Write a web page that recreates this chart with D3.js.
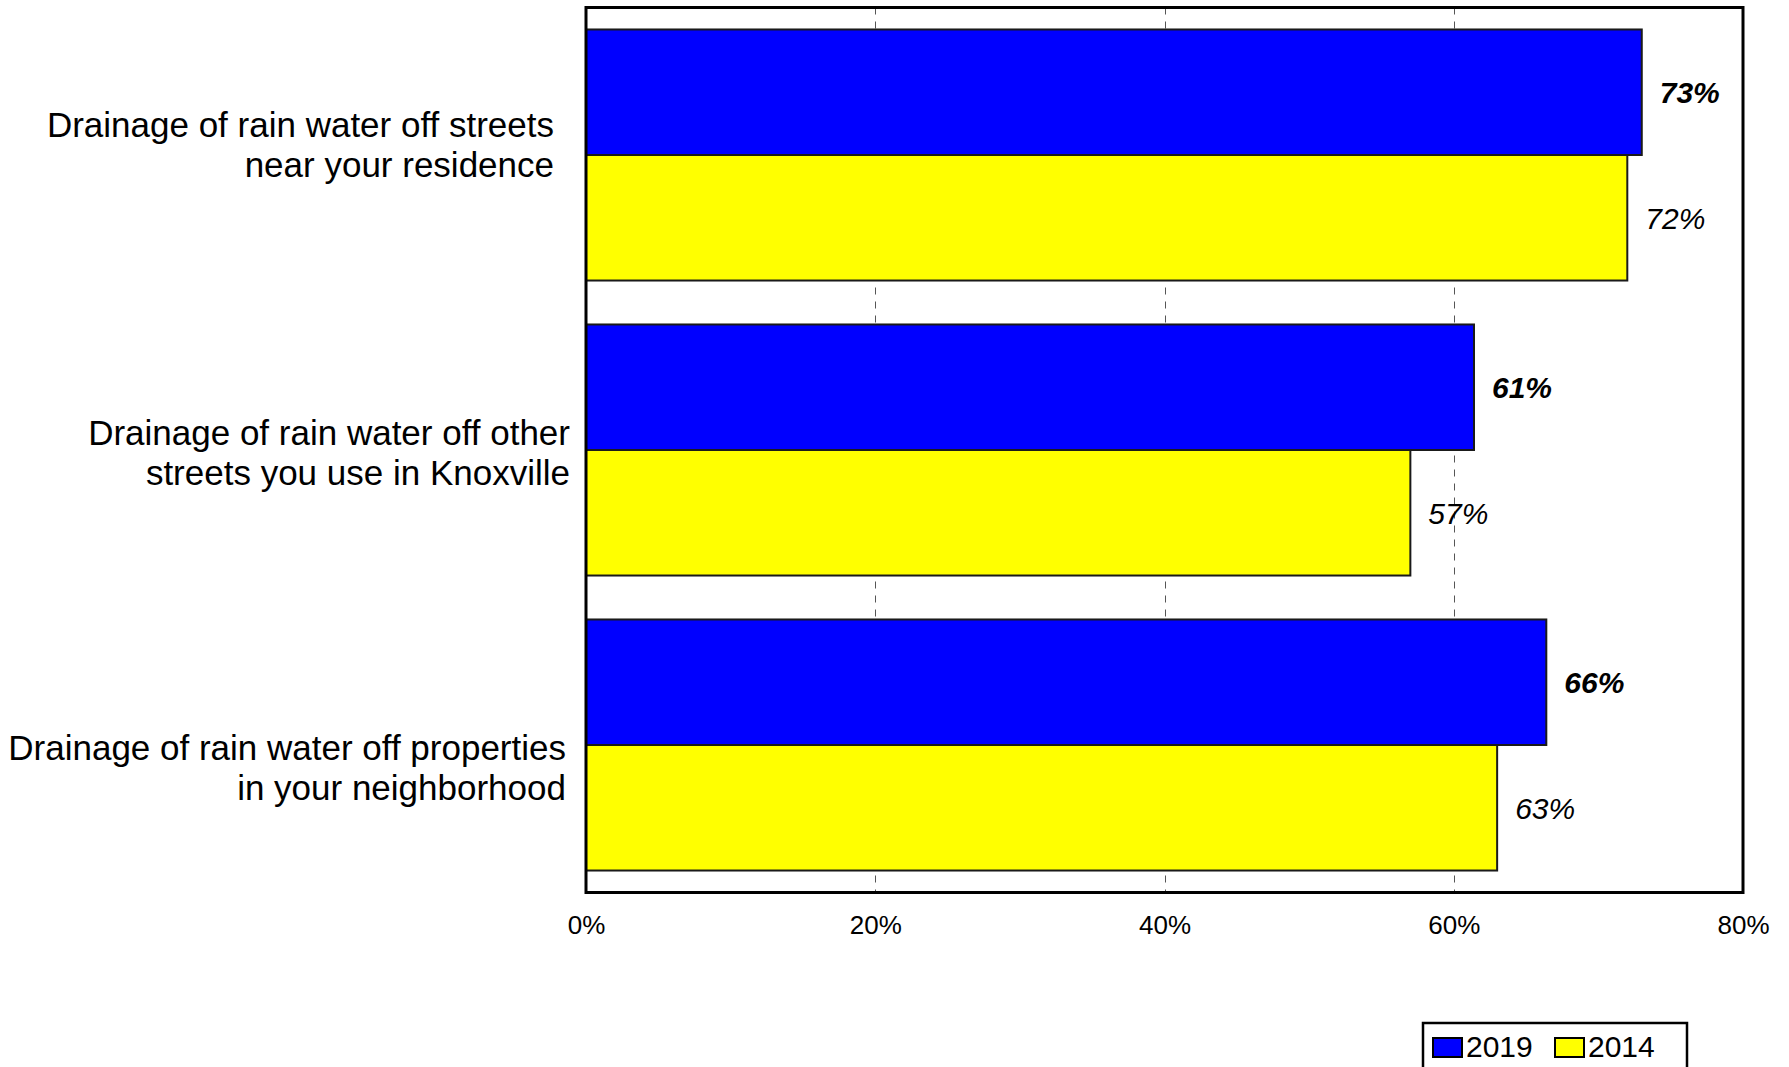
<!DOCTYPE html>
<html>
<head>
<meta charset="utf-8">
<script src="https://cdn.jsdelivr.net/npm/d3@7"></script>
<style>
  html, body { margin: 0; padding: 0; background: #fff; }
  svg { display: block; font-family: "Liberation Sans", Arial, sans-serif; }
</style>
</head>
<body>
<svg id="chart" width="1789" height="1067"></svg>
<script>
// ---- data ----
const categories = [
  ["Drainage of rain water off streets", "near your residence"],
  ["Drainage of rain water off other", "streets you use in Knoxville"],
  ["Drainage of rain water off properties", "in your neighborhood"]
];
const seriesNames = ["2019", "2014"];
const values2019 = [73, 61.4, 66.4];
const values2014 = [72, 57, 63];
const tickValues = [0, 20, 40, 60, 80];

// ---- styles / layout ----
const colors = ["#0000ff", "#ffff00"];
const labelRight = [554, 570, 566];
const labelFirstDy = [-18, -5, 15];

const svg = d3.select("#chart");
const pLeft = 586, pRight = 1743, pTop = 7.5, pBottom = 892.5;

const x = d3.scaleLinear().domain([0, 80]).range([pLeft, pRight]);
const y = d3.scaleBand().domain(d3.range(categories.length))
  .range([pTop, pBottom]).paddingInner(0.149).paddingOuter(0.0745);
const ySub = d3.scaleBand().domain(seriesNames).range([0, y.bandwidth()]);

// gridlines
svg.append("g").selectAll("line")
  .data(tickValues.filter(t => t > 0 && t < 80))
  .join("line")
  .attr("x1", d => Math.round(x(d)) + 0.5).attr("x2", d => Math.round(x(d)) + 0.5)
  .attr("y1", pTop).attr("y2", pBottom)
  .attr("stroke", "#555").attr("stroke-width", 1)
  .attr("stroke-dasharray", "7,7");

// bars
const rows = categories.map((c, i) => ({ i, vals: [values2019[i], values2014[i]] }));
const groups = svg.append("g").selectAll("g").data(rows).join("g")
  .attr("transform", d => `translate(0,${y(d.i)})`);

groups.selectAll("rect")
  .data(d => d.vals.map((v, k) => ({ v, k, s: seriesNames[k] })))
  .join("rect")
  .attr("x", x(0))
  .attr("y", d => ySub(d.s))
  .attr("width", d => x(d.v) - x(0))
  .attr("height", ySub.bandwidth())
  .attr("fill", d => colors[d.k])
  .attr("stroke", "#1a1a1a").attr("stroke-width", 2);

groups.selectAll("text.val")
  .data(d => d.vals.map((v, k) => ({ v, k, s: seriesNames[k] })))
  .join("text").attr("class", "val")
  .attr("x", d => x(d.v) + 18)
  .attr("y", d => ySub(d.s) + ySub.bandwidth() / 2 + 11)
  .attr("font-size", 30)
  .attr("font-style", "italic")
  .attr("font-weight", d => d.k === 0 ? "bold" : "normal")
  .attr("fill", "#000")
  .text(d => Math.round(d.v) + "%");

// category labels
svg.append("g").selectAll("text").data(categories).join("text")
  .attr("text-anchor", "end")
  .attr("font-size", 35)
  .attr("fill", "#000")
  .each(function (lines, i) {
    const t = d3.select(this);
    const cy = y(i) + y.bandwidth() / 2;
    lines.forEach((ln, j) => {
      t.append("tspan")
        .attr("x", labelRight[i])
        .attr("y", cy + labelFirstDy[i] + j * 40)
        .text(ln);
    });
  });

// frame
svg.append("rect")
  .attr("x", pLeft).attr("y", pTop)
  .attr("width", pRight - pLeft).attr("height", pBottom - pTop)
  .attr("fill", "none").attr("stroke", "#000").attr("stroke-width", 3);

// x axis
const axis = svg.append("g").attr("transform", `translate(0,${pBottom})`)
  .call(d3.axisBottom(x).tickValues(tickValues).tickSize(0).tickFormat(d => d + "%"));
axis.select(".domain").remove();
axis.selectAll("text")
  .attr("y", 41.5).attr("dy", 0)
  .attr("font-size", 26)
  .attr("font-family", "\"Liberation Sans\", Arial, sans-serif")
  .attr("fill", "#000");

// legend
const lg = svg.append("g");
lg.append("rect")
  .attr("x", 1423).attr("y", 1023).attr("width", 264).attr("height", 60)
  .attr("fill", "#fff").attr("stroke", "#000").attr("stroke-width", 2.5);
const lItems = lg.selectAll("g").data(seriesNames).join("g")
  .attr("transform", (d, k) => `translate(${1433 + k * 122},0)`);
lItems.append("rect")
  .attr("x", 0).attr("y", 1038).attr("width", 29).attr("height", 19)
  .attr("fill", (d, k) => colors[k]).attr("stroke", "#000").attr("stroke-width", 2);
lItems.append("text")
  .attr("x", 33).attr("y", 1057)
  .attr("font-size", 30).attr("fill", "#000")
  .text(d => d);
</script>
</body>
</html>
